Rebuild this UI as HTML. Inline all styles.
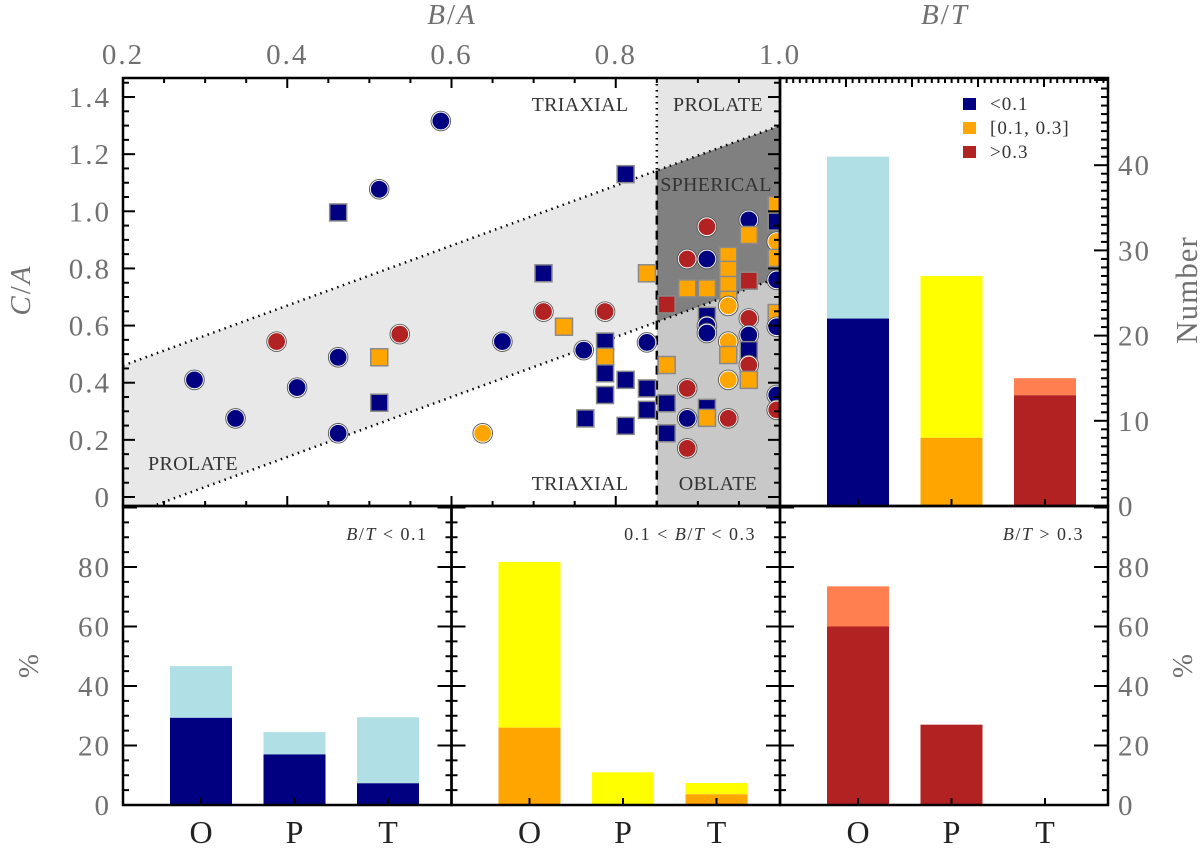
<!DOCTYPE html>
<html><head><meta charset="utf-8"><style>
html,body{margin:0;padding:0;background:#fff;}
svg{display:block;font-family:"Liberation Serif",serif;}
</style></head><body>
<svg id="c" width="1200" height="857" viewBox="0 0 1200 857" xmlns="http://www.w3.org/2000/svg"></svg>
<script>
// ---- scatter data (B/A, C/A, bulge class, marker shape) ----
const ptBA = [0.587,0.512,0.462,0.712,0.712,0.737,0.537,0.387,0.662,0.761,0.462,0.512,0.287,0.412,0.512,0.337,0.763,0.462,0.638,
 0.812,0.838,0.787,0.787,0.787,0.787,0.787,0.838,0.812,0.838,0.838,0.812,0.862,0.862,0.862,0.862,0.887,0.887,0.887,0.887,0.887,
 0.911,0.911,0.911,0.911,0.911,0.911,0.911,0.911,0.937,0.937,0.937,0.937,0.937,0.937,0.937,0.937,0.937,
 0.962,0.962,0.962,0.962,0.962,0.962,0.962,0.962,0.996,0.996,0.996,0.996,0.996,0.996,0.996,0.996,0.996];
const ptCA = [1.316,1.077,0.996,0.783,0.649,0.596,0.570,0.544,0.544,0.514,0.489,0.489,0.410,0.383,0.330,0.275,0.275,0.223,0.223,
 1.130,0.783,0.649,0.544,0.491,0.433,0.357,0.541,0.410,0.380,0.305,0.249,0.462,0.328,0.223,0.674,0.380,0.275,0.170,0.730,0.833,
 0.833,0.730,0.946,0.634,0.599,0.574,0.312,0.277,0.275,0.844,0.795,0.742,0.690,0.669,0.544,0.497,0.410,
 0.970,0.917,0.757,0.625,0.567,0.514,0.462,0.410,1.022,0.964,0.894,0.837,0.760,0.644,0.596,0.357,0.305];
const ptCls = [0,0,0,0,2,1,2,2,0,0,0,1,0,0,0,0,0,0,1,
 0,1,2,0,1,0,0,0,0,0,0,0,1,0,0,2,2,0,2,1,2,
 0,1,2,0,0,0,0,1,2,1,1,1,1,1,1,1,1,
 0,1,2,2,0,0,2,1,1,0,1,1,0,1,0,0,2];
const ptShape = ["c","c","s","s","c","s","c","c","c","c","c","s","c","c","s","c","s","c","c",
 "s","s","c","s","s","s","s","c","s","s","s","s","s","s","s","s","c","c","c","s","c",
 "c","s","c","s","c","c","s","s","c","s","s","s","s","c","c","s","c",
 "c","s","s","c","c","s","c","s","s","s","c","s","c","s","c","c","c"];
// ---- histogram (Number) data ----
const cats = ["O","P","T"];
const numDark = [22, 8, 13];
const numTotal = [41, 27, 15];
// ---- percentage panels ----
const pctDark = [[29.3,17,7.3],[26,0,3.6],[60,27,0]];
const pctTotal = [[46.7,24.5,29.5],[81.7,11,7.4],[73.5,27,0]];
const BT='<tspan font-style="italic">B</tspan>/<tspan font-style="italic">T</tspan>';
const pctTitles = [BT+" &lt; 0.1","0.1 &lt; "+BT+" &lt; 0.3",BT+" &gt; 0.3"];
const numTicks = [0,10,20,30,40];
const pctTicks = [0,20,40,60,80];
const baTicks = [0.2,0.4,0.6,0.8,1.0];
const caTicks = [0,0.2,0.4,0.6,0.8,1.0,1.2,1.4];

const darkCols = ["#000080","#ffa500","#b22222"];
const lightCols = ["#b0dfe6","#ffff00","#ff7f50"];
const NS="http://www.w3.org/2000/svg";
const svg=document.getElementById('c');
function mk(tag,attrs,parent){const e=document.createElementNS(NS,tag);for(const k in attrs)e.setAttribute(k,attrs[k]);(parent||svg).appendChild(e);return e;}

const L=123,R=780,T=78,B=506;
const xBA=v=>L+(v-0.2)*821.25;
const yCA=v=>497-v*285.7;
const defs=mk('defs',{});
const cp=mk('clipPath',{id:'mainclip'},defs);mk('rect',{x:L,y:T,width:R-L,height:B-T},cp);
const g=mk('g',{'clip-path':'url(#mainclip)'});


const up=v=>1.05*v+0.25, lo=v=>1.05*v-0.28;
const P=(a,b)=>xBA(a)+','+yCA(b);
let e;
e=mk('polygon',{points:[P(0.2,up(0.2)),P(0.85,up(0.85)),P(0.85,lo(0.85)),P(0.2,lo(0.2))].join(' '),fill:'#e8e8e8'},g);

e=mk('polygon',{points:[P(0.85,1.6),P(1.0,1.6),P(1.0,up(1.0)),P(0.85,up(0.85))].join(' '),fill:'#e6e6e6'},g);

e=mk('polygon',{points:[P(0.85,up(0.85)),P(1.0,up(1.0)),P(1.0,lo(1.0)),P(0.85,lo(0.85))].join(' '),fill:'#808080'},g);

e=mk('polygon',{points:[P(0.85,lo(0.85)),P(1.0,lo(1.0)),P(1.0,-0.2),P(0.85,-0.2)].join(' '),fill:'#c8c8c8'},g);

e=mk('line',{x1:xBA(0.2),y1:yCA(up(0.2)),x2:xBA(1),y2:yCA(up(1)),stroke:'#000','stroke-width':2.5,'stroke-dasharray':'1.5 4.5'},g);

e=mk('line',{x1:xBA(0.2),y1:yCA(lo(0.2)),x2:xBA(1),y2:yCA(lo(1)),stroke:'#000','stroke-width':2.5,'stroke-dasharray':'1.5 4.5'},g);

e=mk('line',{x1:xBA(0.85),y1:T,x2:xBA(0.85),y2:yCA(up(0.85)),stroke:'#000','stroke-width':2.5,'stroke-dasharray':'1.5 4.5'},g);

e=mk('line',{x1:xBA(0.85),y1:yCA(up(0.85)),x2:xBA(0.85),y2:B,stroke:'#000','stroke-width':2.5,'stroke-dasharray':'9 6'},g);

const regLabels=[["TRIAXIAL",580,111],["PROLATE",718,111],["SPHERICAL",716,191],["PROLATE",193,470],["TRIAXIAL",580,490],["OBLATE",718,490]];
regLabels.forEach(r=>{e=mk('text',{x:r[1],y:r[2],'text-anchor':'middle',style:'font-size:20px;fill:#333;letter-spacing:0.3px'},g);e.textContent=r[0];
});
for(let i=0;i<ptBA.length;i++){
  const cx=xBA(ptBA[i]),cy=yCA(ptCA[i]),col=darkCols[ptCls[i]];
  if(ptShape[i]==='c'){e=mk('circle',{cx:cx,cy:cy,r:9,fill:col,stroke:'#fff','stroke-width':1.2},g);
    mk('circle',{cx:cx,cy:cy,r:9.8,fill:'none',stroke:'#555','stroke-width':0.9},g);}
  else{e=mk('rect',{x:cx-8.5,y:cy-8.5,width:17,height:17,fill:col,stroke:'#8a8a8a','stroke-width':1.5},g);}
  
  
}
function frame(x0,y0,x1,y1,name){const f=mk('rect',{x:x0,y:y0,width:x1-x0,height:y1-y0,fill:'none',stroke:'#000','stroke-width':2.5});
}
function tk(x1,y1,x2,y2){mk('line',{x1:x1,y1:y1,x2:x2,y2:y2,stroke:'#000','stroke-width':2});}
const TS='font-size:29px;fill:#707070;letter-spacing:2px';
function lab(txt,x,y,anchor,style,name){const t=mk('text',{x:x,y:y,'text-anchor':anchor,style:style||TS});t.innerHTML=txt;
return t;}
for(let v=0.2;v<=1.0001;v+=0.05){const x=xBA(v),maj=Math.abs((v*10)%2)<0.01||Math.abs((v*10)%2-2)<0.01;const len=maj?10:5;tk(x,T,x,T+len);tk(x,B,x,B-len);}
for(let v=-0.0;v<=1.46;v+=0.05){const y=yCA(v),maj=Math.abs(Math.round(v*100)%20)<1;const len=maj?12:6;tk(L,y,L+len,y);tk(R,y,R-len,y);}
baTicks.forEach(v=>lab(v.toFixed(1),xBA(v),64,'middle',TS,'top-x-tick-label'));
caTicks.forEach(v=>lab(v===0?'0':v.toFixed(1),111,yCA(v)+10,'end',TS,'y-tick-label'));
frame(L,T,R,B,'scatter-frame');
const TT='font-size:29px;fill:#707070;letter-spacing:2px';
lab('<tspan font-style="italic">B</tspan>/<tspan font-style="italic">A</tspan>',452,24,'middle',TT,'x-axis-title');
lab(BT,945,24,'middle',TT,'bt-axis-title');
let t=lab('<tspan font-style="italic">C</tspan>/<tspan font-style="italic">A</tspan>',0,0,'middle',TT,'y-axis-title');t.setAttribute('transform','translate(30,290) rotate(-90)');

const R2=1108;
const yN=n=>506-n*8.52;
const cx0=x0=>i=>x0+78+93.5*i;
const cN=cx0(R);
for(let i=0;i<3;i++){
  e=mk('rect',{x:cN(i)-31,y:yN(numTotal[i]),width:62,height:yN(numDark[i])-yN(numTotal[i]),fill:lightCols[i]});
  
  e=mk('rect',{x:cN(i)-31,y:yN(numDark[i]),width:62,height:506-yN(numDark[i]),fill:darkCols[i]});
  
  tk(cN(i),B,cN(i),B-7);
}
for(let n=0;n<=50;n++){const y=yN(n);if(y<T)break;const len=n%10===0?14:7;tk(R2,y,R2-len,y);}
for(let x=R;x<=R2;x+=6.6){tk(x,T,x,T+((Math.round((x-R)/6.6))%10===0?9:5));}
numTicks.forEach(n=>lab(String(n),1118,yN(n)+10,'start',TS,'number-tick-label'));
t=lab('Number',0,0,'middle','font-size:31px;fill:#707070;letter-spacing:1px','number-axis-title');t.setAttribute('transform','translate(1197,290) rotate(-90)');
const legT=["&lt;0.1","[0.1, 0.3]","&gt;0.3"];
for(let i=0;i<3;i++){e=mk('rect',{x:963,y:98+24*i,width:13,height:12,fill:darkCols[i]});

lab(legT[i],990,110+24*i,'start','font-size:19px;fill:#333;letter-spacing:1px','legend-entry');}
frame(R,T,R2,B,'number-frame');

const PB=805,PT=506;
const yP=p=>PB-p*2.975;
const pL=[L,451.5,R];
for(let k=0;k<3;k++){
  const x0=pL[k],x1=(k<2?pL[k+1]:R2),c=cx0(x0);
  for(let i=0;i<3;i++){
    if(pctTotal[k][i]>pctDark[k][i]){e=mk('rect',{x:c(i)-31,y:yP(pctTotal[k][i]),width:62,height:yP(pctDark[k][i])-yP(pctTotal[k][i]),fill:lightCols[k]});
    }
    if(pctDark[k][i]>0){e=mk('rect',{x:c(i)-31,y:yP(pctDark[k][i]),width:62,height:PB-yP(pctDark[k][i]),fill:darkCols[k]});
    }
    tk(c(i),PB,c(i),PB-7);
    lab(cats[i],c(i),843,'middle','font-size:32px;fill:#222','category-label');
  }
  for(let p=0;p<=100;p+=5){const y=yP(p);const len=p%20===0?14:6;tk(x0,y,x0+len,y);tk(x1,y,x1-len,y);}
  lab(pctTitles[k],x1-24,540,'end','font-size:18px;fill:#333;letter-spacing:1.5px','panel-title');
  frame(x0,PT,x1,PB,'pct-frame-'+k);
}
pctTicks.forEach(p=>lab(String(p),111,yP(p)+10,'end',TS,'pct-tick-left'));
pctTicks.forEach(p=>lab(String(p),1118,yP(p)+10,'start',TS,'pct-tick-right'));
t=lab('%',0,0,'middle',TS,'pct-axis-title-left');t.setAttribute('transform','translate(38,665) rotate(-90)');
t=lab('%',0,0,'middle',TS,'pct-axis-title-right');t.setAttribute('transform','translate(1192,665) rotate(-90)');
</script>
</body></html>
